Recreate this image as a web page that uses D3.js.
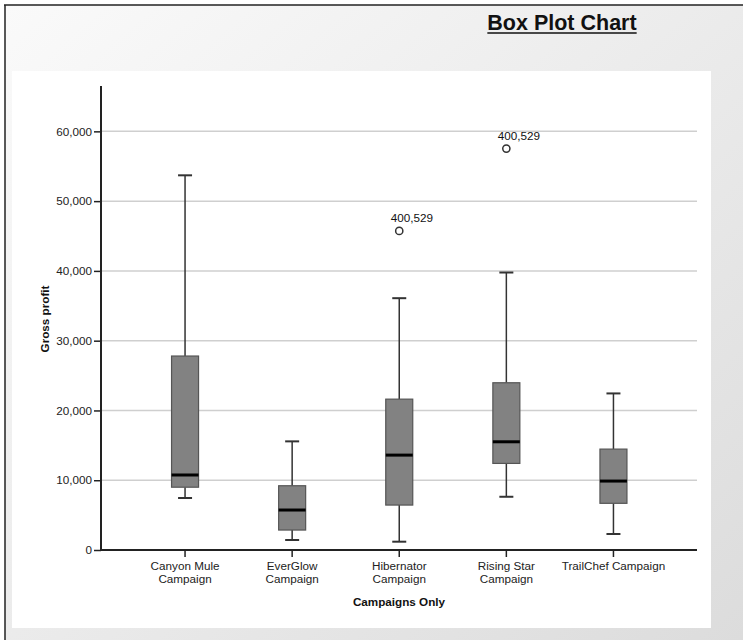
<!DOCTYPE html>
<html>
<head>
<meta charset="utf-8">
<script src="https://cdn.jsdelivr.net/npm/d3@7"></script>
<style>
  html, body { margin: 0; padding: 0; background: #ffffff; }
  svg { display: block; font-family: "Liberation Sans", Arial, sans-serif; }
</style>
</head>
<body>
<svg id="chart" width="743" height="640"></svg>
<script>
// ---- data ----
const categories = ["Canyon Mule Campaign", "EverGlow Campaign", "Hibernator Campaign", "Rising Star Campaign", "TrailChef Campaign"];
const tickLabels = [["Canyon Mule", "Campaign"], ["EverGlow", "Campaign"], ["Hibernator", "Campaign"], ["Rising Star", "Campaign"], ["TrailChef Campaign"]];
const whiskerLow  = [7450, 1430, 1190, 7630, 2290];
const q1Values    = [9000, 2860, 6440, 12410, 6690];
const medians     = [10750, 5730, 13600, 15510, 9880];
const q3Values    = [27800, 9210, 21620, 23970, 14460];
const whiskerHigh = [53700, 15570, 36090, 39770, 22440];
const outlierCats   = ["Hibernator Campaign", "Rising Star Campaign"];
const outlierValues = [45730, 57530];
const outlierLabels = ["400,529", "400,529"];
const yTicks = [0, 10000, 20000, 30000, 40000, 50000, 60000];

const svg = d3.select("#chart");

// ---- background frame ----
const defs = svg.append("defs");
const grad = defs.append("linearGradient").attr("id", "bg")
  .attr("x1", "0").attr("y1", "0").attr("x2", "1").attr("y2", "1");
grad.append("stop").attr("offset", "0").attr("stop-color", "#fafafa");
grad.append("stop").attr("offset", "1").attr("stop-color", "#dcdcdc");
svg.append("rect").attr("x", 5).attr("y", 5).attr("width", 738).attr("height", 635).attr("fill", "url(#bg)");
svg.append("line").attr("x1", 4).attr("x2", 743).attr("y1", 5).attr("y2", 5).attr("stroke", "#222").attr("stroke-width", 1.5);
svg.append("line").attr("x1", 5).attr("x2", 5).attr("y1", 5).attr("y2", 640).attr("stroke", "#222").attr("stroke-width", 1.5);
svg.append("rect").attr("x", 12).attr("y", 71).attr("width", 699).attr("height", 557).attr("fill", "#ffffff");

// ---- title ----
const title = svg.append("text").attr("x", 562).attr("y", 30).attr("text-anchor", "middle")
  .attr("font-size", 21.5).attr("font-weight", "bold").attr("fill", "#111").text("Box Plot Chart");
const tb = title.node().getBBox();
svg.append("line").attr("x1", tb.x).attr("x2", tb.x + tb.width).attr("y1", 33).attr("y2", 33)
  .attr("stroke", "#111").attr("stroke-width", 1.6);

// ---- scales ----
const x = d3.scaleBand().domain(categories).range([131.5, 667]).padding(0);
const cx = c => x(c) + x.bandwidth() / 2;
const y = d3.scaleLinear().domain([0, 66500]).range([550, 86]);
const left = 101, right = 697;

// gridlines
svg.append("g").selectAll("line").data(yTicks.filter(d => d > 0)).join("line")
  .attr("x1", left).attr("x2", right).attr("y1", d => y(d)).attr("y2", d => y(d))
  .attr("stroke", "#cfcfcf").attr("stroke-width", 1.5);

// y axis
const yAxis = svg.append("g").attr("transform", `translate(${left},0)`)
  .call(d3.axisLeft(y).tickValues(yTicks).tickSize(7).tickPadding(2).tickFormat(d3.format(",")));
yAxis.select(".domain").remove();
yAxis.selectAll(".tick line").attr("stroke", "#222").attr("stroke-width", 1.5);
yAxis.selectAll(".tick text").attr("font-size", 11.7).attr("fill", "#222")
  .attr("font-family", "'Liberation Sans', Arial, sans-serif");
svg.append("line").attr("x1", left).attr("x2", left).attr("y1", 86).attr("y2", 551)
  .attr("stroke", "#222").attr("stroke-width", 2);

// x axis
const xAxis = svg.append("g").attr("transform", "translate(0,550)")
  .call(d3.axisBottom(x).tickSize(7).tickFormat(""));
xAxis.select(".domain").remove();
xAxis.selectAll(".tick line").attr("stroke", "#222").attr("stroke-width", 1.5);
svg.append("line").attr("x1", left).attr("x2", right).attr("y1", 550).attr("y2", 550)
  .attr("stroke", "#222").attr("stroke-width", 2);
xAxis.selectAll(".tick").each(function(d, i) {
  const t = d3.select(this).append("text").attr("text-anchor", "middle")
    .attr("font-size", 11.7).attr("fill", "#222")
    .attr("font-family", "'Liberation Sans', Arial, sans-serif");
  tickLabels[i].forEach((s, k) => t.append("tspan").attr("x", 0).attr("y", 20 + k * 12.5).text(s));
});

// axis titles
svg.append("text").attr("x", 399).attr("y", 606).attr("text-anchor", "middle")
  .attr("font-size", 11.7).attr("font-weight", "bold").attr("fill", "#111").text("Campaigns Only");
svg.append("text").attr("transform", "translate(49,319) rotate(-90)").attr("text-anchor", "middle")
  .attr("font-size", 11.7).attr("font-weight", "bold").attr("fill", "#111").text("Gross profit");

// ---- boxes ----
const boxW = 27, capW = 14;
const boxes = svg.append("g").selectAll("g").data(categories).join("g");
boxes.append("line").attr("x1", cx).attr("x2", cx)
  .attr("y1", (d, i) => y(whiskerHigh[i])).attr("y2", (d, i) => y(q3Values[i]))
  .attr("stroke", "#333").attr("stroke-width", 1.5);
boxes.append("line").attr("x1", cx).attr("x2", cx)
  .attr("y1", (d, i) => y(q1Values[i])).attr("y2", (d, i) => y(whiskerLow[i]))
  .attr("stroke", "#333").attr("stroke-width", 1.5);
boxes.append("line").attr("x1", d => cx(d) - capW / 2).attr("x2", d => cx(d) + capW / 2)
  .attr("y1", (d, i) => y(whiskerHigh[i])).attr("y2", (d, i) => y(whiskerHigh[i]))
  .attr("stroke", "#333").attr("stroke-width", 2);
boxes.append("line").attr("x1", d => cx(d) - capW / 2).attr("x2", d => cx(d) + capW / 2)
  .attr("y1", (d, i) => y(whiskerLow[i])).attr("y2", (d, i) => y(whiskerLow[i]))
  .attr("stroke", "#333").attr("stroke-width", 2);
boxes.append("rect").attr("x", d => cx(d) - boxW / 2).attr("width", boxW)
  .attr("y", (d, i) => y(q3Values[i])).attr("height", (d, i) => y(q1Values[i]) - y(q3Values[i]))
  .attr("fill", "#828282").attr("stroke", "#555").attr("stroke-width", 1.2);
boxes.append("line").attr("x1", d => cx(d) - boxW / 2).attr("x2", d => cx(d) + boxW / 2)
  .attr("y1", (d, i) => y(medians[i])).attr("y2", (d, i) => y(medians[i]))
  .attr("stroke", "#000").attr("stroke-width", 3);

// ---- outliers ----
const outs = svg.append("g").selectAll("g").data(outlierCats).join("g");
outs.append("circle").attr("cx", cx).attr("cy", (d, i) => y(outlierValues[i])).attr("r", 3.6)
  .attr("fill", "#fff").attr("stroke", "#333").attr("stroke-width", 1.5);
outs.append("text").attr("x", d => cx(d) - 8.5).attr("y", (d, i) => y(outlierValues[i]) - 9)
  .attr("font-size", 11.7).attr("fill", "#111").text((d, i) => outlierLabels[i]);
</script>
</body>
</html>
